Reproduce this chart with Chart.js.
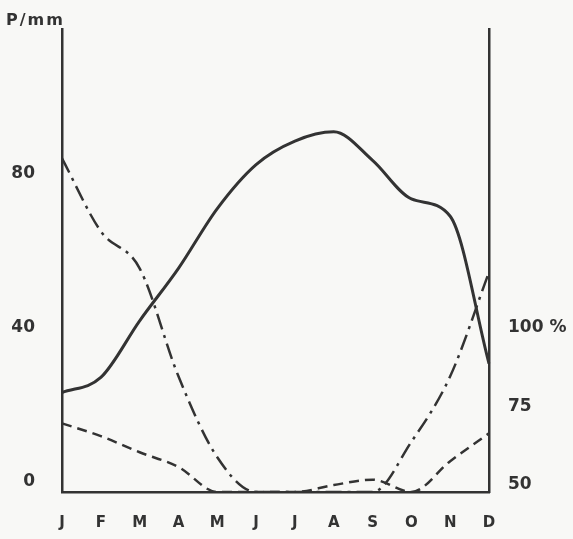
<!DOCTYPE html>
<html>
<head>
<meta charset="utf-8">
<script src="https://cdn.jsdelivr.net/npm/chart.js@4/dist/chart.umd.min.js"></script>
<style>
  html, body { margin: 0; padding: 0; background: #f8f8f6; }
  #wrap { width: 573px; height: 539px; }
</style>
</head>
<body>
<div id="wrap"><canvas id="klima" width="573" height="539"></canvas></div>
<script>
// climate diagram: precipitation (solid) and two dashed curves
const months = ['J', 'F', 'M', 'A', 'M', 'J', 'J', 'A', 'S', 'O', 'N', 'D'];
const precip = [25.8, 29.7, 44.4, 58, 73.5, 84.9, 91, 93.4, 86, 76, 71.5, 33.3];
const dashDot = [86.5, 67.6, 58, 30, 9, 0, 0, 0, 0, 13, 30, 57];
const dashed = [17.8, 14.5, 10.3, 6.5, 0, 0, 0, 1.8, 3.2, 0, 8, 15.2];
const leftTicks = [0, 40, 80];
const rightTicks = [50, 75, 100];

const ink = '#333';
Chart.defaults.font.family = "'DejaVu Sans', sans-serif";
Chart.defaults.font.weight = 'bold';
Chart.defaults.color = ink;

// unit label top-left
const unitLabel = {
    id: 'unitLabel',
    afterDraw(chart) {
        const c = chart.ctx;
        c.save();
        c.font = "bold 16px 'DejaVu Sans', sans-serif";
        c.letterSpacing = '2px';
        c.fillStyle = ink;
        c.textBaseline = 'alphabetic';
        c.fillText('P/mm', 6, 25);
        c.restore();
    }
};

const ctx = document.getElementById('klima').getContext('2d');
new Chart(ctx, {
    type: 'line',
    data: {
        labels: months,
        datasets: [
            { data: precip, borderColor: ink, borderWidth: 3 },
            { data: dashDot, borderColor: ink, borderWidth: 2.5, borderDash: [16, 6, 3, 6] },
            { data: dashed, borderColor: ink, borderWidth: 2.5, borderDash: [10, 6] }
        ]
    },
    options: {
        responsive: false,
        animation: false,
        devicePixelRatio: 1,
        layout: { padding: { top: 23, left: 0, right: 0, bottom: 0 } },
        elements: {
            point: { radius: 0 },
            line: { fill: false, cubicInterpolationMode: 'monotone' }
        },
        plugins: { legend: { display: false }, tooltip: { enabled: false } },
        scales: {
            x: {
                offset: false,
                grid: { display: false },
                border: { display: true, width: 2.5, color: ink },
                ticks: { padding: 14, autoSkip: false, maxRotation: 0, font: { size: 15 } },
                afterFit: s => { s.height = 47; }
            },
            y: {
                position: 'left',
                min: 0,
                max: 120,
                grid: { display: false },
                border: { display: true, width: 2.5, color: ink },
                afterBuildTicks: s => { s.ticks = leftTicks.map(v => ({ value: v })); },
                ticks: { padding: 19, labelOffset: -10, font: { size: 17 } },
                afterFit: s => { s.width = 62; }
            },
            y1: {
                position: 'right',
                min: 50,
                max: 197,
                grid: { display: false },
                border: { display: true, width: 2.5, color: ink },
                afterBuildTicks: s => { s.ticks = rightTicks.map(v => ({ value: v })); },
                ticks: {
                    padding: 11, labelOffset: -7, font: { size: 17 },
                    callback: v => v === 100 ? '100 %' : String(v)
                },
                afterFit: s => { s.width = 84; }
            }
        }
    },
    plugins: [unitLabel]
});
</script>
</body>
</html>
